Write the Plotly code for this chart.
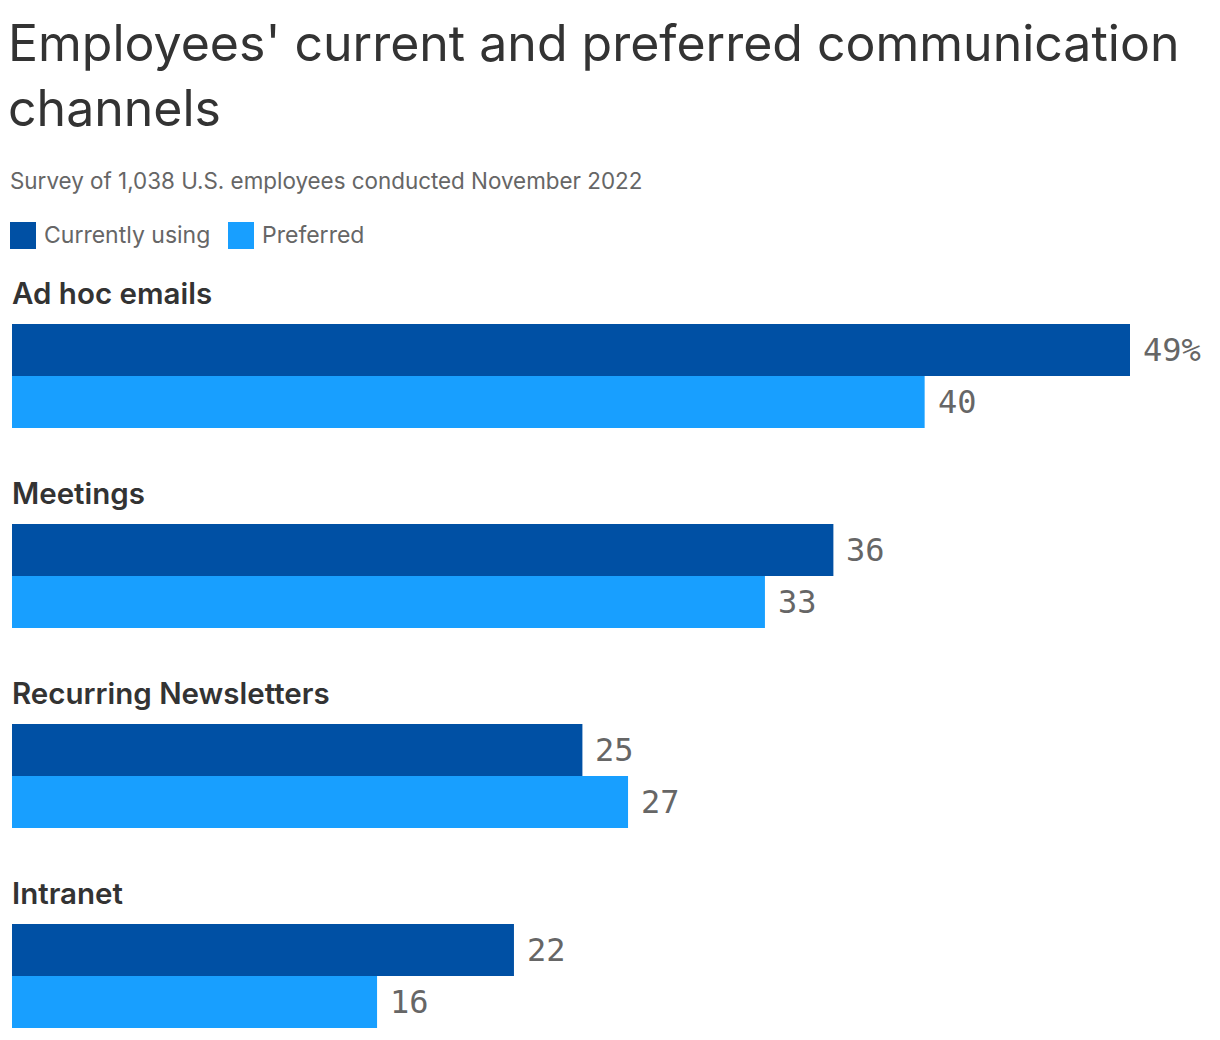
import plotly.graph_objects as go

categories = ["Ad hoc emails", "Meetings", "Recurring Newsletters", "Intranet"]
current = [49, 36, 25, 22]
preferred = [40, 33, 27, 16]
series_names = ["Currently using", "Preferred"]
title = "Employees' current and preferred communication<br>channels"
subtitle = "Survey of 1,038 U.S. employees conducted November 2022"

DARK = "#0050A4"
LIGHT = "#189FFF"
TXT = "#333333"
GRAY = "#666666"
SANS = "Inter, Liberation Sans, Arial, sans-serif"
MONO = "DejaVu Sans Mono, monospace"

W, H = 1220, 1040
ML, MT = 12, 276
PW, PH = W - ML, H - MT

def px_x(p):
    return (p - ML) / PW

def px_y(p):
    return (H - p) / PH

fig = go.Figure()
fig.add_trace(go.Bar(y=categories, x=current, orientation="h", name=series_names[0],
                     marker=dict(color=DARK, line=dict(width=0)), showlegend=False,
                     hoverinfo="x+y"))
fig.add_trace(go.Bar(y=categories, x=preferred, orientation="h", name=series_names[1],
                     marker=dict(color=LIGHT, line=dict(width=0)), showlegend=False,
                     hoverinfo="x+y"))

ann = []
for i, c in enumerate(categories):
    ann.append(dict(x=0, y=c, xref="x", yref="y", text=c, showarrow=False,
                    xanchor="left", yanchor="middle", yshift=83, xshift=-2,
                    font=dict(family=SANS, size=29.5, color=TXT, weight=600)))
    cur_txt = f"{current[i]}%" if i == 0 else f"{current[i]}"
    ann.append(dict(x=current[i], y=c, xref="x", yref="y", text=cur_txt, showarrow=False,
                    xanchor="left", yanchor="middle", yshift=26, xshift=11,
                    font=dict(family=MONO, size=32, color=GRAY)))
    ann.append(dict(x=preferred[i], y=c, xref="x", yref="y", text=f"{preferred[i]}", showarrow=False,
                    xanchor="left", yanchor="middle", yshift=-26, xshift=11,
                    font=dict(family=MONO, size=32, color=GRAY)))

# title / subtitle
ann.append(dict(x=px_x(6), y=px_y(11), xref="paper", yref="paper", text=title, showarrow=False,
                xanchor="left", yanchor="top", align="left",
                font=dict(family=SANS, size=50, color=TXT)))
ann.append(dict(x=px_x(8), y=px_y(180), xref="paper", yref="paper", text=subtitle, showarrow=False,
                xanchor="left", yanchor="middle", align="left",
                font=dict(family=SANS, size=22.4, color=GRAY)))

# legend
shapes = []
legend_items = [(10, 42, DARK), (228, 260, LIGHT)]
for (sx, tx, col), name in zip(legend_items, series_names):
    shapes.append(dict(type="rect", xref="paper", yref="paper",
                       x0=px_x(sx), x1=px_x(sx + 26), y0=px_y(249), y1=px_y(222),
                       fillcolor=col, line=dict(width=0)))
    ann.append(dict(x=px_x(tx), y=px_y(235), xref="paper", yref="paper", text=name, showarrow=False,
                    xanchor="left", yanchor="middle",
                    font=dict(family=SANS, size=23, color=GRAY)))

fig.update_layout(
    width=W, height=H,
    margin=dict(l=ML, r=0, t=MT, b=0, pad=0),
    paper_bgcolor="white", plot_bgcolor="white",
    barmode="group", bargap=0.48, bargroupgap=0,
    xaxis=dict(range=[0, PW / (1118 / 49)], visible=False, fixedrange=True),
    yaxis=dict(range=[-0.5 + PH / 200, -0.5], visible=False, fixedrange=True,
               type="category", categoryorder="array", categoryarray=categories),
    annotations=ann, shapes=shapes, showlegend=False,
)

fig.write_html("out.html", config={"displayModeBar": False})
